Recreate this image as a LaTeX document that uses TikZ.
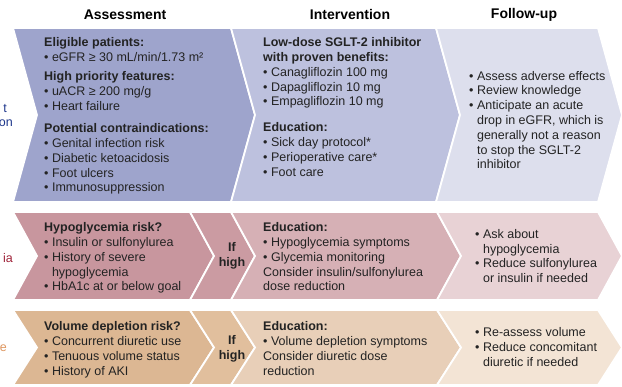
\documentclass[tikz,border=0pt]{standalone}
\usepackage{fontspec}
\setmainfont{Liberation Sans}
\usetikzlibrary{calc}
\definecolor{bA}{RGB}{158,164,204}
\definecolor{bI}{RGB}{189,193,222}
\definecolor{bF}{RGB}{221,223,237}
\definecolor{pA}{RGB}{200,150,158}
\definecolor{pH}{RGB}{203,155,162}
\definecolor{pI}{RGB}{214,176,181}
\definecolor{pF}{RGB}{232,210,213}
\definecolor{oA}{RGB}{220,183,147}
\definecolor{oH}{RGB}{225,191,157}
\definecolor{oI}{RGB}{232,207,184}
\definecolor{oF}{RGB}{243,228,213}
\definecolor{txtc}{RGB}{35,35,35}
\definecolor{lblue}{RGB}{30,55,140}
\definecolor{lred}{RGB}{160,36,58}
\definecolor{lorange}{RGB}{222,150,95}
\newcommand\chev[6]{\filldraw[seg, fill=#1] (#2,#4) -- (#3,#4) -- ({#3+24},#6) -- (#3,#5) -- (#2,#5) -- ({#2+24},#6) -- cycle;}
\tikzset{
  seg/.style={draw=white, line width=1.8pt, line join=miter},
  hdr/.style={font=\fontsize{14}{16}\selectfont\bfseries, inner sep=0, text=black},
  txt/.style={font=\fontsize{12.5}{14.8}\selectfont, align=left, inner sep=0, anchor=north west, text=txtc},
  ifh/.style={font=\fontsize{12.5}{15}\selectfont\bfseries, align=center, inner sep=0, text=txtc},
  side/.style={font=\fontsize{12.5}{14}\selectfont, inner sep=0, anchor=east}
}
\newcommand\ind{\phantom{• }}
\begin{document}
\begin{tikzpicture}[x=1pt,y=-1pt]
\useasboundingbox (0,0) rectangle (622,387);
\fill[white] (0,0) rectangle (622,387);
% row 1
\chev{bA}{13}{231}{28}{202}{115}
\chev{bI}{231}{436}{28}{202}{115}
\chev{bF}{436}{598}{28}{202}{115}
% row 2
\chev{pA}{13}{190}{212}{300}{256}
\chev{pH}{190}{231}{212}{300}{256}
\chev{pI}{231}{437}{212}{300}{256}
\chev{pF}{437}{598}{212}{300}{256}
% row 3
\chev{oA}{13}{190}{310}{385}{347.5}
\chev{oH}{190}{231}{310}{385}{347.5}
\chev{oI}{231}{437}{310}{385}{347.5}
\chev{oF}{437}{598}{310}{385}{347.5}
% headers
\node[hdr] (h1) at (125,15) {Assessment};
\node[hdr] (h2) at (350,15) {Intervention};
\node[hdr] (h3) at (524,15) {Follow-up};
% side labels
\node[side, text=lblue] (s1) at (7,109) {t};
\node[side, text=lblue] (s2) at (13,123) {on};
\node[side, text=lred] (s3) at (13,258) {ia};
\node[side, text=lorange] (s4) at (7,348) {e};
% row 1 texts
\node[txt] (a1) at (44,37.5) {\textbf{Eligible patients:}\\• eGFR ≥ 30 mL/min/1.73 m²};
\node[txt] (a2) at (44,71.5) {\textbf{High priority features:}\\• uACR ≥ 200 mg/g\\• Heart failure};
\node[txt] (a3) at (44,123.5) {\textbf{Potential contraindications:}\\• Genital infection risk\\• Diabetic ketoacidosis\\• Foot ulcers\\• Immunosuppression};
\node[txt] (i1) at (263,37.5) {\textbf{Low-dose SGLT-2 inhibitor}\\\textbf{with proven benefits:}\\• Canagliflozin 100 mg\\• Dapagliflozin 10 mg\\• Empagliflozin 10 mg};
\node[txt] (i2) at (263,122.5) {\textbf{Education:}\\• Sick day protocol*\\• Perioperative care*\\• Foot care};
\node[txt, anchor=west] (f1) at (469,120) {• Assess adverse effects\\• Review knowledge\\• Anticipate an acute\\\ind drop in eGFR, which is\\\ind generally not a reason\\\ind to stop the SGLT-2\\\ind inhibitor};
% row 2 texts
\node[txt] (a4) at (44,222.5) {\textbf{Hypoglycemia risk?}\\• Insulin or sulfonylurea\\• History of severe\\\ind hypoglycemia\\• HbA1c at or below goal};
\node[ifh] (ih1) at (232,256) {If\\high};
\node[txt] (i3) at (263,222.5) {\textbf{Education:}\\• Hypoglycemia symptoms\\• Glycemia monitoring\\Consider insulin/sulfonylurea\\dose reduction};
\node[txt, anchor=west] (f2) at (475,256) {• Ask about\\\ind hypoglycemia\\• Reduce sulfonylurea\\\ind or insulin if needed};
% row 3 texts
\node[txt] (a5) at (44,321.5) {\textbf{Volume depletion risk?}\\• Concurrent diuretic use\\• Tenuous volume status\\• History of AKI};
\node[ifh] (ih2) at (232,349) {If\\high};
\node[txt] (i4) at (263,321.5) {\textbf{Education:}\\• Volume depletion symptoms\\Consider diuretic dose\\reduction};
\node[txt, anchor=west] (f3) at (475,347) {• Re-assess volume\\• Reduce concomitant\\\ind diuretic if needed};
\end{tikzpicture}
\end{document}
